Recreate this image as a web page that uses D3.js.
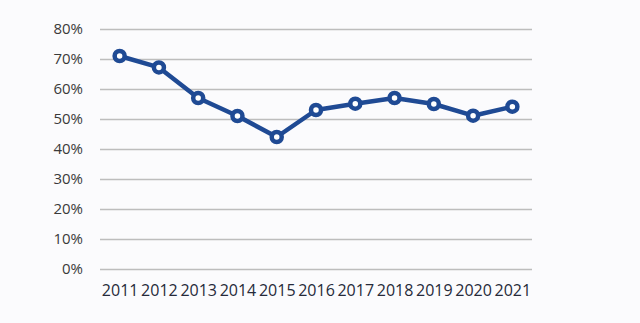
<!DOCTYPE html>
<html>
<head>
<meta charset="utf-8">
<script src="https://cdn.jsdelivr.net/npm/d3@7"></script>
<style>
  body { margin: 0; background: #fbfbfd; }
  #chart { width: 640px; height: 323px; }
  .axis text { font-family: "Open Sans", sans-serif; }
</style>
</head>
<body>
<div id="chart"></div>
<script>
// share values, by year
const years = ['2011', '2012', '2013', '2014', '2015', '2016', '2017', '2018', '2019', '2020', '2021'];
const values = [71, 67.2, 57, 51, 44, 53, 55.1, 57, 55, 51.1, 54.1];
const yTicks = [0, 10, 20, 30, 40, 50, 60, 70, 80];

const width = 640, height = 323;
const margin = {left: 100, top: 29, right: 108, bottom: 54};

const x = d3.scalePoint()
    .domain(years)
    .range([margin.left, width - margin.right])
    .padding(0.5);

const y = d3.scaleLinear()
    .domain([0, 80])
    .range([height - margin.bottom, margin.top]);

const svg = d3.select('#chart').append('svg')
    .attr('width', width).attr('height', height);

// horizontal gridlines + y labels
const yAxis = d3.axisLeft(y)
    .tickValues(yTicks)
    .tickSize(-(width - margin.left - margin.right))
    .tickPadding(17)
    .tickFormat(d => d + '%');

const gy = svg.append('g').attr('class', 'axis y')
    .attr('transform', 'translate(' + margin.left + ',0)')
    .call(yAxis);
gy.select('.domain').remove();
gy.selectAll('line').attr('stroke', '#bdbdbd').attr('stroke-width', 1.3);
gy.selectAll('text').attr('fill', '#3a3a3a').style('font-size', '15px');

const xAxis = d3.axisBottom(x).tickSize(0).tickPadding(16);
const gx = svg.append('g').attr('class', 'axis x')
    .attr('transform', 'translate(0,' + (height - margin.bottom) + ')')
    .call(xAxis);
gx.select('.domain').remove();
gx.selectAll('text').attr('fill', '#262a3a').style('font-size', '16px');

const line = d3.line()
    .x((d, i) => x(years[i]))
    .y(d => y(d));

svg.append('path')
    .attr('d', line(values))
    .attr('fill', 'none')
    .attr('stroke', '#1f4a94')
    .attr('stroke-width', 4.5)
    .attr('stroke-linejoin', 'round');

svg.selectAll('circle.pt').data(values).join('circle')
    .attr('class', 'pt')
    .attr('cx', (d, i) => x(years[i]))
    .attr('cy', d => y(d))
    .attr('r', 5)
    .attr('fill', '#ffffff')
    .attr('stroke', '#1f4a94')
    .attr('stroke-width', 4.5);
</script>
</body>
</html>
